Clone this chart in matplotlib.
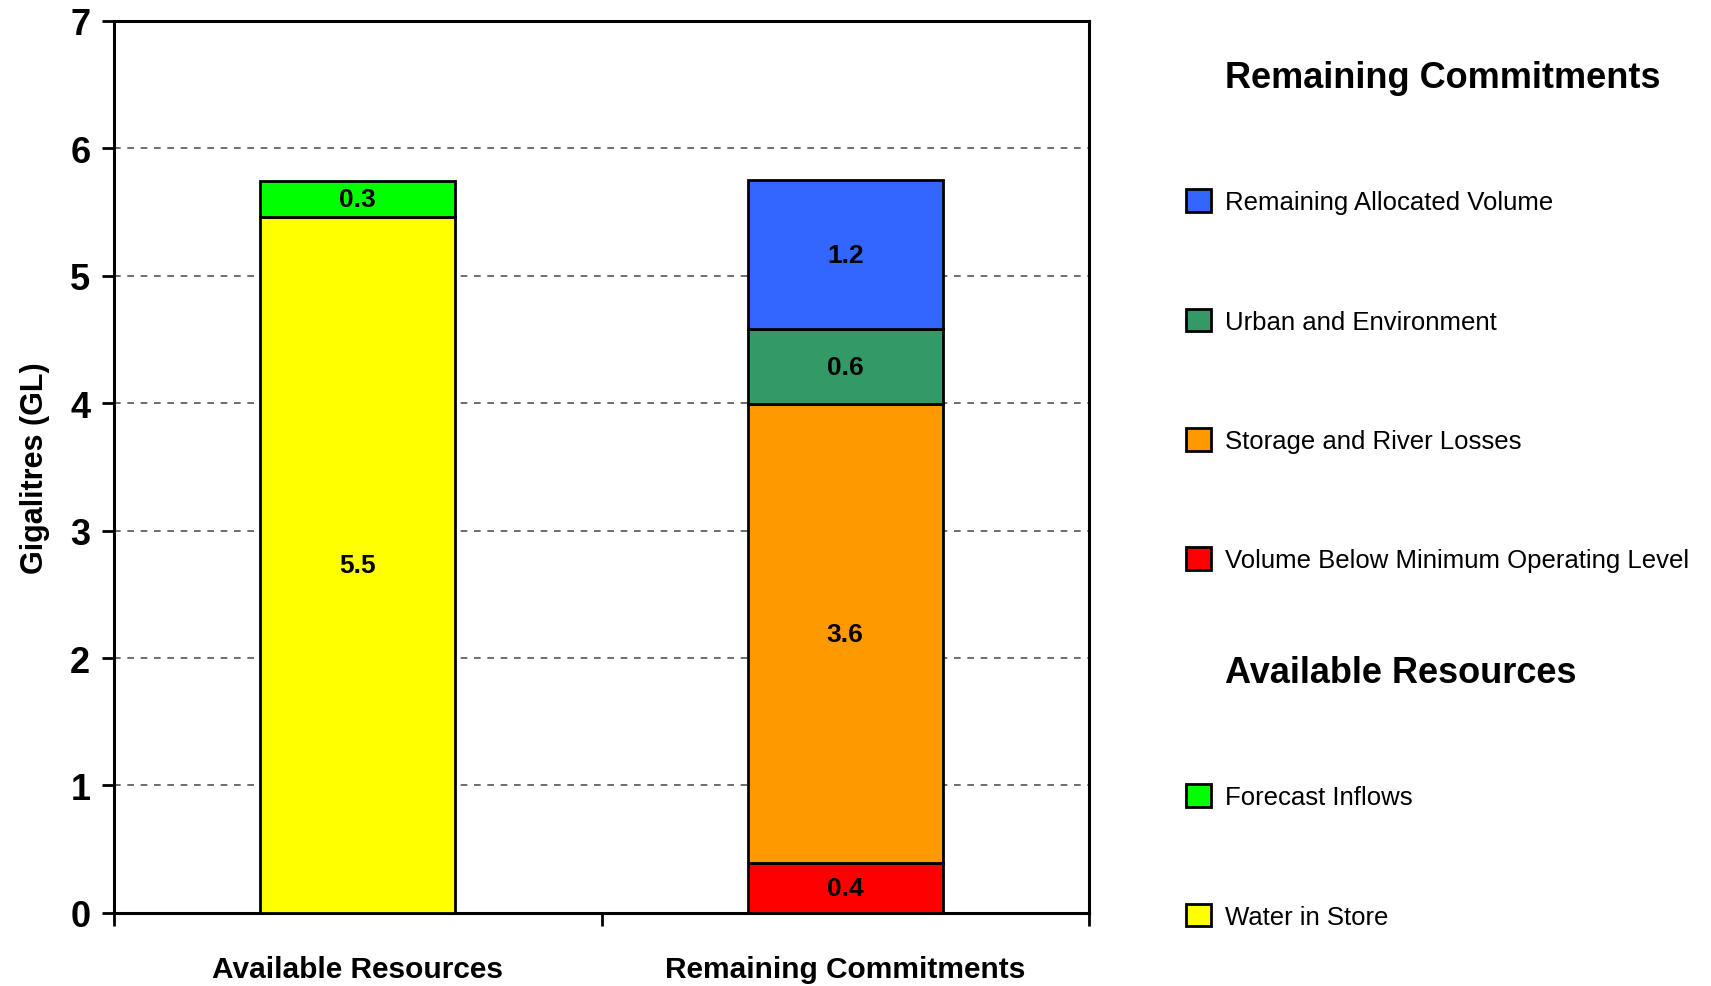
import matplotlib.pyplot as plt
from matplotlib.patches import Rectangle

plt.rcParams['font.family'] = ['Liberation Sans', 'DejaVu Sans']

# 数据
categories = ['Available Resources', 'Remaining Commitments']
water_in_store = [5.46, 0.0]
forecast_inflows = [0.28, 0.0]
below_mol = [0.0, 0.39]
river_losses = [0.0, 3.60]
urban_env = [0.0, 0.59]
allocated = [0.0, 1.17]

series = [
    ('Water in Store', water_in_store, '#FFFF00'),
    ('Forecast Inflows', forecast_inflows, '#00FF00'),
    ('Volume Below Minimum Operating Level', below_mol, '#FF0000'),
    ('Storage and River Losses', river_losses, '#FF9900'),
    ('Urban and Environment', urban_env, '#339966'),
    ('Remaining Allocated Volume', allocated, '#3366FF'),
]

legend_groups = [
    ('Remaining Commitments', ['Remaining Allocated Volume', 'Urban and Environment',
                               'Storage and River Losses',
                               'Volume Below Minimum Operating Level']),
    ('Available Resources', ['Forecast Inflows', 'Water in Store']),
]

fig = plt.figure(figsize=(17.11, 9.87), dpi=100)
ax = fig.add_axes([0.0666, 0.074, 0.5699, 0.904])

x = list(range(len(categories)))
bottoms = [0.0] * len(categories)
handles = {}
for name, vals, color in series:
    for i, v in enumerate(vals):
        if v <= 0:
            continue
        bars = ax.bar(x[i], v, width=0.4, bottom=bottoms[i], color=color,
                      edgecolor='black', linewidth=2, zorder=3)
        handles[name] = bars[0]
        ax.text(x[i], bottoms[i] + v / 2, f'{v:.1f}', ha='center', va='center',
                fontsize=19, fontweight='bold', zorder=4)
        bottoms[i] += v

# 坐标轴
ax.set_xlim(-0.5, 1.5)
ax.set_ylim(0, 7)
ax.set_yticks(range(0, 8))
ax.set_yticklabels([str(v) for v in range(0, 8)], fontsize=26, fontweight='bold')
ax.set_xticks(x)
ax.set_xticklabels(categories, fontsize=21.5, fontweight='bold')
ax.set_xticks([-0.5, 0.5, 1.5], minor=True)
ax.tick_params(axis='x', which='major', length=0, pad=30)
ax.tick_params(axis='x', which='minor', length=9, width=2, direction='out')
ax.tick_params(axis='y', length=9, width=2, direction='out', pad=8)
for sp in ax.spines.values():
    sp.set_linewidth(2.2)

ax.set_axisbelow(True)
ax.yaxis.grid(True, linestyle=(0, (4, 4)), color='#555555', linewidth=1.2)
ax.set_ylabel('Gigalitres (GL)', fontsize=22, fontweight='bold')
ax.yaxis.set_label_coords(-0.066, 0.5)

# 图例（两组，各带标题行）
blank = Rectangle((0, 0), 1, 1, fill=False, edgecolor='none', visible=False)
anchors_y = [61, 656]
for (title, names), top in zip(legend_groups, anchors_y):
    leg_names = [title] + names
    leg_handles = [blank] + [handles[n] for n in names]
    leg = fig.legend(leg_handles, leg_names, loc='upper left',
                     bbox_to_anchor=(1186 / 1711, 1 - top / 987), frameon=False,
                     fontsize=18.5, labelspacing=3.67, handlelength=0.97,
                     handleheight=0.97, handletextpad=0.55, borderpad=0,
                     borderaxespad=0)
    head = leg.get_texts()[0]
    head.set_fontsize(26)
    head.set_fontweight('bold')

fig.savefig('out.png', dpi=100)
